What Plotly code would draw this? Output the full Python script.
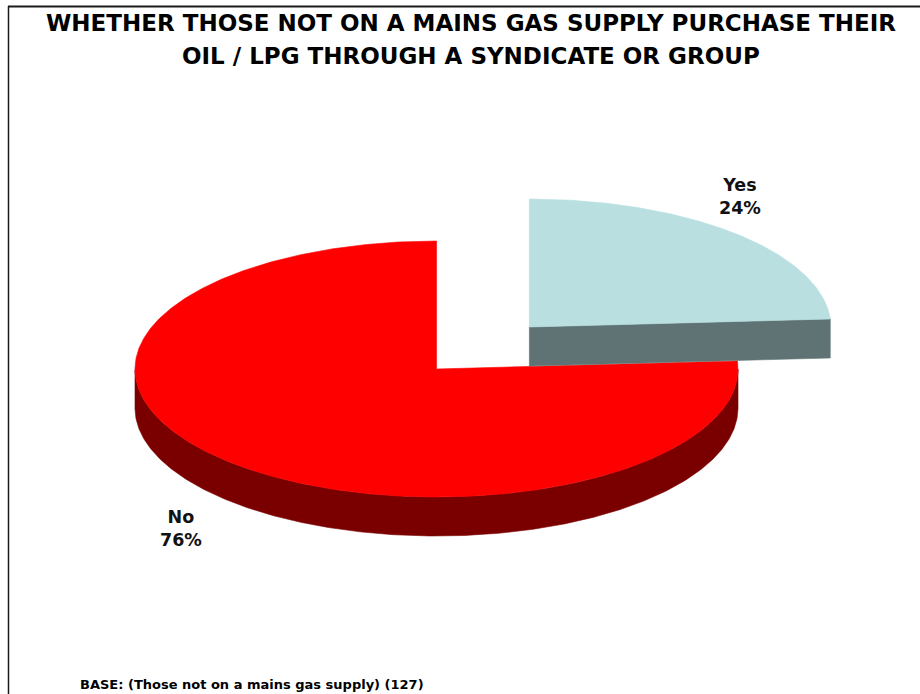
import numpy as np
import plotly.graph_objects as go

# Survey result: purchase of oil / LPG through a syndicate or group
categories = ["Yes", "No"]
shares = [24, 76]
top_colors = ["#B9DFE1", "#FF0000"]
side_colors = ["#5F7374", "#7A0000"]
explode = [0.45, 0.0]

title_lines = [
    "WHETHER THOSE NOT ON A MAINS GAS SUPPLY PURCHASE THEIR",
    "OIL / LPG THROUGH A SYNDICATE OR GROUP",
]
base_note = "BASE: (Those not on a mains gas supply) (127)"

# Canvas and pie geometry (pixel units)
W, H = 920, 694
CX, CY = 436.5, 369.0
RX, RY = 301.5, 128.0
DEPTH = 39.0
START_ANGLE = 90.0  # slices run clockwise from 12 o'clock

label_pos = {"Yes": (740, 196), "No": (181, 528)}


def ell(cx, cy, t, dy=0.0):
    return cx + RX * np.cos(t), cy - RY * np.sin(t) + dy


def poly_trace(xs, ys, color):
    return go.Scatter(
        x=list(xs) + [xs[0]], y=list(ys) + [ys[0]],
        mode="lines", fill="toself", fillcolor=color,
        line=dict(color=color, width=0.6), hoverinfo="skip", showlegend=False,
    )


fig = go.Figure()

total = float(sum(shares))
a0 = np.deg2rad(START_ANGLE)
slices = []
for name, val, tc, sc, ex in zip(categories, shares, top_colors, side_colors, explode):
    sweep = 2 * np.pi * val / total
    t0, t1 = a0, a0 - sweep
    mid = (t0 + t1) / 2
    cx = CX + RX * ex * np.cos(mid)
    cy = CY - RY * ex * np.sin(mid)
    slices.append((name, val, t0, t1, cx, cy, tc, sc, ex))
    a0 = t1

# draw the non-exploded slice first, the pulled-out one on top
order = sorted(range(len(slices)), key=lambda i: slices[i][8])
for i in order:
    name, val, t0, t1, cx, cy, tc, sc, ex = slices[i]

    # outer wall: only the front half (sin < 0) is visible
    ts = np.linspace(t0, t1, 600)
    vis = ts[np.sin(ts) < 0]
    if vis.size > 1:
        xt, yt = ell(cx, cy, vis)
        xb, yb = ell(cx, cy, vis[::-1], DEPTH)
        fig.add_trace(poly_trace(np.r_[xt, xb], np.r_[yt, yb], sc))

    # flat cut faces that turn toward the viewer
    for t, vis_face in ((t1, np.cos(t1) > 1e-9), (t0, np.cos(t0) < -1e-9)):
        if vis_face:
            ex_, ey_ = ell(cx, cy, t)
            fig.add_trace(poly_trace(
                [cx, ex_, ex_, cx], [cy, ey_, ey_ + DEPTH, cy + DEPTH], sc))

    # top face
    xt, yt = ell(cx, cy, ts)
    fig.add_trace(poly_trace(np.r_[cx, xt], np.r_[cy, yt], tc))

annotations = []
for name, val, *_ in slices:
    lx, ly = label_pos[name]
    annotations.append(dict(
        x=lx, y=ly, xref="x", yref="y", showarrow=False,
        text=f"<b>{name}<br>{val}%</b>",
        font=dict(family="DejaVu Sans", size=17.5, color="#111111"),
        align="center", xanchor="center", yanchor="middle",
    ))

for k, line in enumerate(title_lines):
    annotations.append(dict(
        x=471, y=23 + 33 * k, xref="x", yref="y", showarrow=False,
        text=f"<b>{line}</b>",
        font=dict(family="DejaVu Sans", size=23, color="#000000"),
        xanchor="center", yanchor="middle",
    ))

annotations.append(dict(
    x=78, y=684, xref="x", yref="y", showarrow=False,
    text=f"<b>{base_note}</b>",
    font=dict(family="DejaVu Sans", size=13, color="#000000"),
    xanchor="left", yanchor="middle",
))

shapes = [
    dict(type="line", xref="x", yref="y", x0=8, y0=6.5, x1=W, y1=6.5,
         line=dict(color="#1a1a1a", width=2)),
    dict(type="line", xref="x", yref="y", x0=8.5, y0=6, x1=8.5, y1=H,
         line=dict(color="#1a1a1a", width=1.5)),
]

fig.update_layout(
    width=W, height=H,
    margin=dict(l=0, r=0, t=0, b=0),
    paper_bgcolor="white", plot_bgcolor="white",
    xaxis=dict(range=[0, W], visible=False, fixedrange=True),
    yaxis=dict(range=[H, 0], visible=False, fixedrange=True),
    annotations=annotations, shapes=shapes,
    showlegend=False,
)

fig.write_html("out.html")
